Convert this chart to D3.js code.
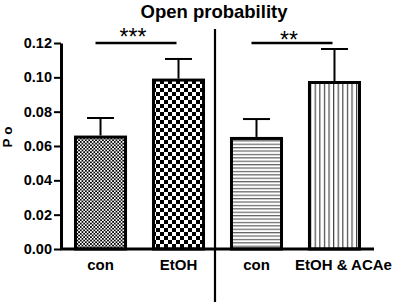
<!DOCTYPE html>
<html lang="en">
<head>
<meta charset="utf-8">
<script src="https://cdnjs.cloudflare.com/ajax/libs/d3/7.8.5/d3.min.js"></script>
<title>Open probability</title>
<style>
body { margin: 0; background: #fff; }
svg text { font-family: "Liberation Sans", Arial, sans-serif; }
</style>
</head>
<body>
<div id="chart"></div>
<script>
// values
const labels = ["con", "EtOH", "con", "EtOH & ACAe"];
const means = [0.0652, 0.0984, 0.0644, 0.0970];
const sems = [0.0111, 0.0123, 0.0113, 0.0195];
const fills = ["fineChecker", "coarseChecker", "hLines", "vLines"];
const yTicks = [0, 0.02, 0.04, 0.06, 0.08, 0.10, 0.12];
const sigFrom = [0, 2];
const sigTo = [1, 3];
const sigText = ["***", "**"];

const width = 397, height = 306;
const svg = d3.select("#chart").append("svg").attr("width", width).attr("height", height);

const x = d3.scaleBand().domain(d3.range(labels.length)).range([61, 374])
  .paddingInner(0.32).paddingOuter(0.1667);
const y = d3.scaleLinear().domain([0, 0.12]).range([249, 43]);

// fill patterns
const defs = svg.append("defs");
let p = defs.append("pattern").attr("id", "fineChecker").attr("patternUnits", "userSpaceOnUse")
  .attr("width", 3.4).attr("height", 3.4);
p.append("rect").attr("width", 3.4).attr("height", 3.4).attr("fill", "#fff");
p.append("rect").attr("width", 1.7).attr("height", 1.7).attr("fill", "#000");
p.append("rect").attr("x", 1.7).attr("y", 1.7).attr("width", 1.7).attr("height", 1.7).attr("fill", "#000");

p = defs.append("pattern").attr("id", "coarseChecker").attr("patternUnits", "userSpaceOnUse")
  .attr("width", 8).attr("height", 8);
p.append("rect").attr("width", 8).attr("height", 8).attr("fill", "#fff");
p.append("rect").attr("width", 4).attr("height", 4).attr("fill", "#000");
p.append("rect").attr("x", 4).attr("y", 4).attr("width", 4).attr("height", 4).attr("fill", "#000");

p = defs.append("pattern").attr("id", "hLines").attr("patternUnits", "userSpaceOnUse")
  .attr("width", 10).attr("height", 3.4);
p.append("rect").attr("width", 10).attr("height", 3.4).attr("fill", "#fff");
p.append("rect").attr("y", 1).attr("width", 10).attr("height", 1).attr("fill", "#444");

p = defs.append("pattern").attr("id", "vLines").attr("patternUnits", "userSpaceOnUse")
  .attr("width", 4.6).attr("height", 10);
p.append("rect").attr("width", 4.6).attr("height", 10).attr("fill", "#fff");
p.append("rect").attr("x", 2).attr("width", 1).attr("height", 10).attr("fill", "#222");

// title
svg.append("text").attr("x", 214).attr("y", 18).attr("text-anchor", "middle")
  .style("font-size", "18.5px").style("font-weight", "bold").text("Open probability");

// y axis
const yAxis = d3.axisLeft(y).tickValues(yTicks).tickFormat(d3.format(".2f"))
  .tickSize(7).tickSizeOuter(0).tickPadding(2);
const gy = svg.append("g").attr("transform", "translate(61,0)").call(yAxis);
gy.select(".domain").attr("stroke-width", 3);
gy.selectAll(".tick line").attr("stroke-width", 2);
gy.selectAll(".tick text").style("font-size", "14.5px").style("font-weight", "bold").attr("fill", "#000");

svg.append("text").attr("transform", "translate(12,137) rotate(-90)").attr("text-anchor", "middle")
  .style("font-size", "13.5px").style("font-weight", "bold").text("P o");

// bars
svg.selectAll(".bar").data(means).enter().append("rect")
  .attr("class", "bar")
  .attr("x", (d, i) => x(i) + 1.5)
  .attr("width", x.bandwidth() - 3)
  .attr("y", d => y(d))
  .attr("height", d => y(0) - y(d))
  .attr("fill", (d, i) => "url(#" + fills[i] + ")")
  .attr("stroke", "#000").attr("stroke-width", 3);

// error bars
const eb = svg.selectAll(".err").data(means).enter().append("g").attr("class", "err")
  .attr("stroke", "#000").attr("stroke-width", 2);
eb.append("line")
  .attr("x1", (d, i) => x(i) + x.bandwidth() / 2).attr("x2", (d, i) => x(i) + x.bandwidth() / 2)
  .attr("y1", d => y(d) - 1.5).attr("y2", (d, i) => y(d + sems[i]));
eb.append("line")
  .attr("x1", (d, i) => x(i) + x.bandwidth() / 2 - 13.5).attr("x2", (d, i) => x(i) + x.bandwidth() / 2 + 13.5)
  .attr("y1", (d, i) => y(d + sems[i])).attr("y2", (d, i) => y(d + sems[i]));

// x axis line
svg.append("line").attr("x1", 60).attr("x2", 374).attr("y1", y(0)).attr("y2", y(0))
  .attr("stroke", "#000").attr("stroke-width", 3);

// x labels
svg.selectAll(".xlab").data(labels).enter().append("text").attr("class", "xlab")
  .attr("x", (d, i) => x(i) + x.bandwidth() / 2 + (i === 3 ? 9 : 0))
  .attr("y", 270).attr("text-anchor", "middle")
  .style("font-size", "15px").style("font-weight", "bold").text(d => d);

// divider
svg.append("line").attr("x1", 215).attr("x2", 215).attr("y1", 29).attr("y2", 302)
  .attr("stroke", "#000").attr("stroke-width", 2.2);

// significance
sigText.forEach(function(s, k) {
  const x1 = x(sigFrom[k]) + x.bandwidth() / 2 - 5;
  const x2 = x(sigTo[k]) + x.bandwidth() / 2 - 2;
  svg.append("line").attr("x1", x1).attr("x2", x2).attr("y1", y(0.12)).attr("y2", y(0.12))
    .attr("stroke", "#000").attr("stroke-width", 2.5);
  svg.append("text").attr("x", (x1 + x2) / 2 - 3).attr("y", k === 0 ? 45 : 48)
    .attr("text-anchor", "middle").style("font-size", "23px").text(s);
});
</script>
</body>
</html>
